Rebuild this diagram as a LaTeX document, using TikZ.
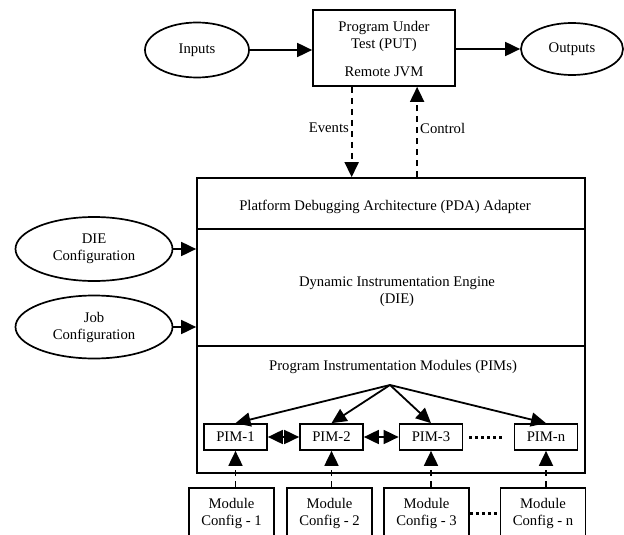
\documentclass[tikz,border=0pt]{standalone}
\usepackage{fontspec}
\setmainfont{Liberation Serif}
\usetikzlibrary{arrows.meta,calc,shapes.geometric}
\begin{document}
\begin{tikzpicture}[x=1pt,y=-1pt,
  every node/.style={font=\fontsize{14.7}{17}\selectfont, inner sep=0pt, align=center},
  box/.style={draw, line width=1.7pt, rectangle},
  oval/.style={draw, line width=1.7pt, ellipse},
  arr/.style={line width=1.8pt, -{Triangle[length=15pt,width=14pt]}},
  darr/.style={line width=1.8pt, dash pattern=on 6pt off 5pt, -{Triangle[length=15pt,width=14pt]}},
  dbl/.style={line width=1.8pt, {Triangle[length=15pt,width=14pt]}-{Triangle[length=15pt,width=14pt]}},
  dots/.style={line width=3pt, dash pattern=on 3pt off 3pt}]
\useasboundingbox (0,0) rectangle (624,535);

% top row
\node[oval, minimum width=104pt, minimum height=55pt] (inputs) at (197,50) {Inputs};
\node[box, minimum width=142pt, minimum height=76pt] (put) at (384,48) {};
\node (putt) at (384,36) {Program Under\\Test (PUT)};
\node (jvm) at (384,72) {Remote JVM};
\node[oval, minimum width=102pt, minimum height=52pt] (outputs) at (572,49) {Outputs};
\draw[arr] (inputs.east) -- (inputs.east -| put.west);
\draw[arr] (put.east |- outputs.west) -- (outputs.west);

% main stack
\node[box, minimum width=388pt, minimum height=51pt] (pda) at (391,203.5) {};
\node (pdat) at (385,207) {Platform Debugging Architecture (PDA) Adapter};
\node[box, minimum width=388pt, minimum height=117pt] (die) at (391,287.5) {};
\node (diet) at (397,292) {Dynamic Instrumentation Engine\\(DIE)};
\node[box, minimum width=388pt, minimum height=127pt] (pims) at (391,409.5) {};
\node (pimst) at (393,367) {Program Instrumentation Modules (PIMs)};

% events / control
\coordinate (ev) at ($(put.south west)!0.275!(put.south east)$);
\draw[darr] (ev) -- (ev |- pda.north);
\coordinate (ct) at ($(pda.north west)!0.567!(pda.north east)$);
\draw[darr] (ct) -- (ct |- put.south);
\node[anchor=east] (evl) at (349,128) {Events};
\node[anchor=west] (ctl) at (420,128) {Control};

% configuration ellipses
\node[oval, minimum width=157pt, minimum height=64pt] (dieconf) at (94,249) {DIE\\Configuration};
\node[oval, minimum width=157pt, minimum height=63pt] (jobconf) at (94,327) {Job\\Configuration};
\draw[arr] (dieconf.east) -- (dieconf.east -| die.west);
\draw[arr] (jobconf.east) -- (jobconf.east -| die.west);

% PIMs
\coordinate (apex) at (390,385);
\node[box, minimum width=63pt, minimum height=26pt] (pim1) at (235.5,437) {PIM-1};
\node[box, minimum width=63pt, minimum height=26pt] (pim2) at (331.5,437) {PIM-2};
\node[box, minimum width=63pt, minimum height=26pt] (pim3) at (431,437) {PIM-3};
\node[box, minimum width=63pt, minimum height=26pt] (pimn) at (546,437) {PIM-n};
\foreach \p in {pim1,pim2,pim3,pimn} \draw[arr] (apex) -- (\p.north);
\draw[dbl] (pim1) -- (pim2);
\draw[dbl] (pim2) -- (pim3);
\draw[dots, shorten <=6pt, shorten >=10pt] (pim3) -- (pimn);

% module configs
\node[box, minimum width=85pt, minimum height=50pt] (mc1) at (231.5,513) {Module\\Config - 1};
\node[box, minimum width=85pt, minimum height=50pt] (mc2) at (329.5,513) {Module\\Config - 2};
\node[box, minimum width=85pt, minimum height=50pt] (mc3) at (426.5,513) {Module\\Config - 3};
\node[box, minimum width=85pt, minimum height=50pt] (mcn) at (543,513) {Module\\Config - n};
\foreach \m/\p in {mc1/pim1,mc2/pim2,mc3/pim3,mcn/pimn}
  \draw[darr] (\m.north -| \p.south) -- (\p.south);
\draw[dots] (mc3.east) -- (mcn.west);
\end{tikzpicture}
\end{document}
